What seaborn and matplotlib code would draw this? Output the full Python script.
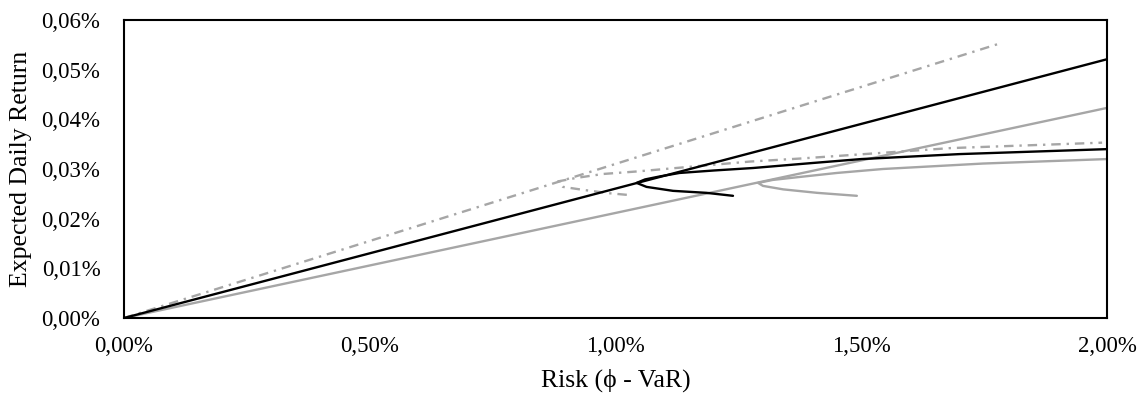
import matplotlib
matplotlib.use("Agg")
import matplotlib.pyplot as plt
import pandas as pd
import seaborn as sns
from matplotlib.ticker import FuncFormatter

# values (risk %, expected daily return %)
tangente_tracejada_x = [0.0, 1.786]
tangente_tracejada_y = [0.0, 0.0554]
tangente_preta_x = [0.0, 2.0]
tangente_preta_y = [0.0, 0.0521]
tangente_cinza_x = [0.0, 2.0]
tangente_cinza_y = [0.0, 0.0423]

fronteira_tracejada_x = [1.023, 0.989, 0.934, 0.893, 0.883, 0.92, 0.975, 1.043, 1.158, 1.274, 1.375, 1.477, 1.68, 1.99]
fronteira_tracejada_y = [0.0248, 0.0251, 0.0258, 0.0264, 0.0275, 0.0282, 0.0290, 0.0295, 0.0305, 0.0315, 0.0321, 0.0328, 0.0342, 0.0353]

fronteira_preta_x = [1.239, 1.185, 1.117, 1.063, 1.043, 1.06, 1.09, 1.13, 1.2, 1.28, 1.4, 1.5, 1.7, 1.85, 2.0]
fronteira_preta_y = [0.0246, 0.0252, 0.0256, 0.0264, 0.0272, 0.0279, 0.0285, 0.0292, 0.0297, 0.0302, 0.0312, 0.0320, 0.0330, 0.0335, 0.0340]

fronteira_cinza_x = [1.491, 1.41, 1.341, 1.30, 1.29, 1.32, 1.375, 1.45, 1.544, 1.748, 2.0]
fronteira_cinza_y = [0.0246, 0.0252, 0.0259, 0.0266, 0.0272, 0.0278, 0.0284, 0.0292, 0.0300, 0.0311, 0.0320]

ticks_x = [0.0, 0.5, 1.0, 1.5, 2.0]
ticks_y = [0.0, 0.01, 0.02, 0.03, 0.04, 0.05, 0.06]

sns.set_style("white")
plt.rcParams['font.family'] = ['Liberation Serif', 'DejaVu Serif']

cinza = "#a6a6a6"
traco_ponto = (0, (4, 2.5, 1, 2.5))

fig, ax = plt.subplots(figsize=(11.46, 3.99), dpi=100)
fig.subplots_adjust(left=0.1082, right=0.966, top=0.9499, bottom=0.203)

series = [
    (tangente_tracejada_x, tangente_tracejada_y, cinza, traco_ponto),
    (fronteira_tracejada_x, fronteira_tracejada_y, cinza, traco_ponto),
    (tangente_cinza_x, tangente_cinza_y, cinza, "-"),
    (fronteira_cinza_x, fronteira_cinza_y, cinza, "-"),
    (tangente_preta_x, tangente_preta_y, "black", "-"),
    (fronteira_preta_x, fronteira_preta_y, "black", "-"),
]

for xs, ys, cor, estilo in series:
    df = pd.DataFrame({"risco": xs, "retorno": ys})
    sns.lineplot(data=df, x="risco", y="retorno", sort=False, color=cor,
                 linewidth=1.7, linestyle=estilo, ax=ax)

ax.set_xlim(0, 2.0)
ax.set_ylim(0, 0.06)
ax.set_xticks(ticks_x)
ax.set_yticks(ticks_y)
ax.xaxis.set_major_formatter(FuncFormatter(lambda v, p: f"{v:.2f}%".replace(".", ",")))
ax.yaxis.set_major_formatter(FuncFormatter(lambda v, p: f"{v:.2f}%".replace(".", ",")))
ax.tick_params(axis="both", length=0, labelsize=16.5, colors="black")
ax.tick_params(axis="y", pad=17)
ax.tick_params(axis="x", pad=13)

for s in ax.spines.values():
    s.set_visible(True)
    s.set_color("black")
    s.set_linewidth(1.5)

ax.set_xlabel("Risk (ϕ - VaR)", fontsize=18.5, color="black", labelpad=8)
ax.set_ylabel("Expected Daily Return", fontsize=18.5, color="black", labelpad=7)

plt.savefig("out.png", dpi=100)
